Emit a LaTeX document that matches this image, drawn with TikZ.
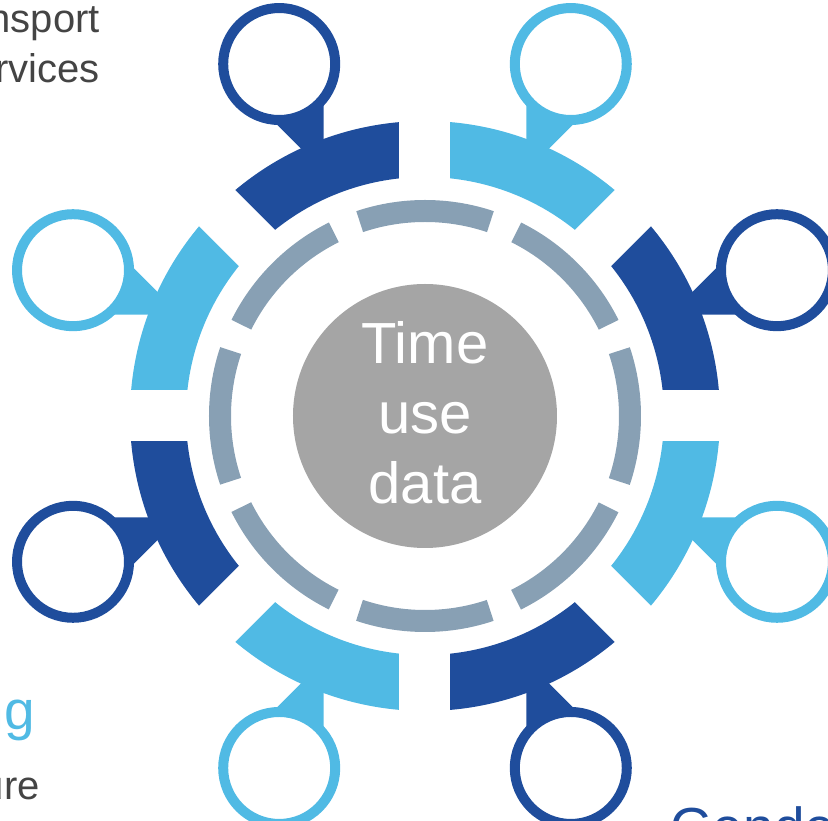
\documentclass[tikz,border=0pt]{standalone}
\usepackage{fontspec}
\setmainfont{Liberation Sans}
\definecolor{dkblue}{RGB}{31,77,156}
\definecolor{ltblue}{RGB}{80,186,228}
\definecolor{ringgray}{RGB}{136,160,180}
\definecolor{ctrgray}{RGB}{165,165,165}
\definecolor{txtgray}{RGB}{68,68,68}
\begin{document}
\begin{tikzpicture}[x=1pt,y=1pt,
  pinring/.style={circle,draw=#1,line width=10pt,fill=white,inner sep=0pt,minimum size=112pt},
  sidetext/.style={font=\fontsize{40}{50}\selectfont,text=txtgray,inner sep=0pt},
  headtext/.style={font=\fontsize{55}{66}\selectfont,text=#1,inner sep=0pt}]
\useasboundingbox (-425,-405) rectangle (403,416);
\clip (-425,-405) rectangle (403,416);
% segmented outer ring
\foreach \k/\c in {0/dkblue,1/ltblue,2/dkblue,3/ltblue,4/dkblue,5/ltblue,6/dkblue,7/ltblue}{
  \pgfmathsetmacro{\a}{45*\k}
  \pgfmathsetmacro{\b}{45*\k+45}
  \fill[\c] (\a:239) arc[start angle=\a,end angle=\b,radius=239] -- (\b:295)
     arc[start angle=\b,end angle=\a,radius=295] -- cycle;
  % pin stem
  \begin{scope}[rotate=45*\k+22.5]
    \fill[\c] (265,0) -- (385,49.7) -- (385,-49.7) -- cycle;
  \end{scope}
}
% gaps between segments
\foreach \k in {0,...,7}{
  \draw[white,line width=51pt] (45*\k:228) -- (45*\k:306);
}
% pin circles
\foreach \k/\c in {0/dkblue,1/ltblue,2/dkblue,3/ltblue,4/dkblue,5/ltblue,6/dkblue,7/ltblue}{
  \node[pinring=\c] (pin\k) at (45*\k+22.5:381) {};
}
% dashed inner ring: 8 dashes, gaps at the pin angles
\draw[ringgray,line width=22pt,dash pattern=on 133pt off 28pt,dash phase=66.5pt] (0,0) circle (205);
% centre
\node[circle,fill=ctrgray,inner sep=0pt,minimum size=264pt] (ctr) at (0,0) {};
\node[font=\fontsize{58}{70}\selectfont,text=white,align=center,inner sep=0pt] (ctrtext) at (0,3) {Time\\use\\data};
% side texts (cropped)
\node[sidetext,anchor=base east] (t1) at (-325,383) {Transport};
\node[sidetext,anchor=base east] (t2) at (-325,333) {services};
\node[headtext=ltblue,anchor=base east] (t3) at (-390,-314) {Planning};
\node[sidetext,anchor=base east] (t4) at (-385,-384) {Infrastructure};
\node[headtext=dkblue,anchor=base west] (t5) at (245,-431) {Gender};
\end{tikzpicture}
\end{document}
